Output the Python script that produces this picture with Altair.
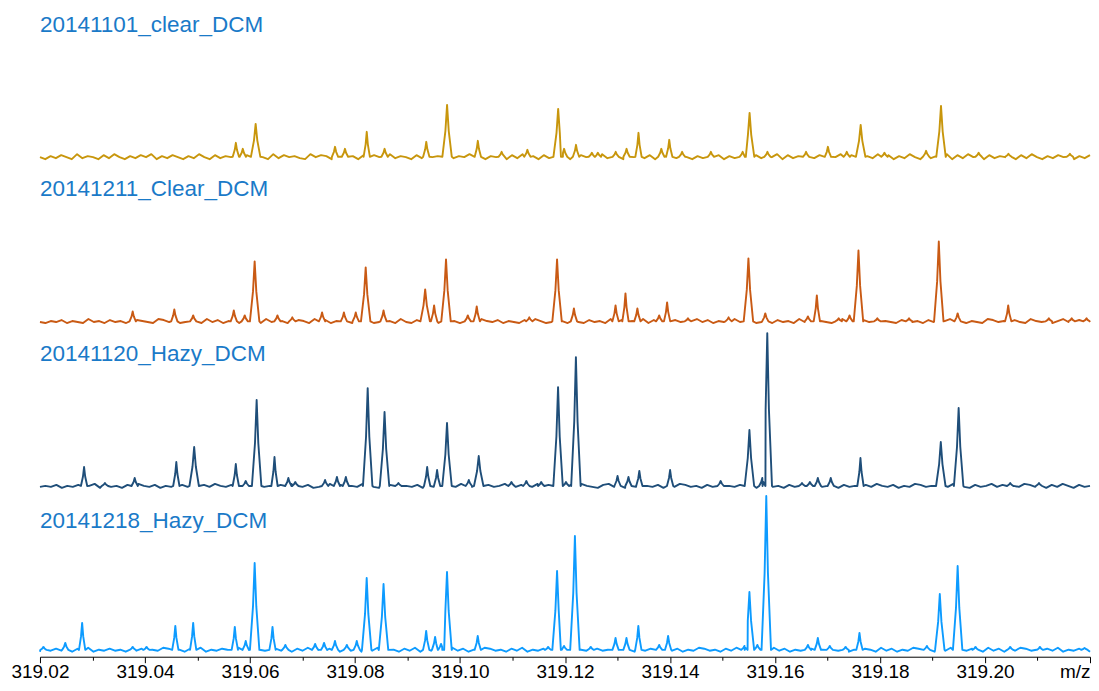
import altair as alt
import pandas as pd

# ---------------- data ----------------
names = ["20141101_clear_DCM", "20141211_Clear_DCM", "20141120_Hazy_DCM", "20141218_Hazy_DCM"]
colors = ["#c8960c", "#c95a14", "#1f4e79", "#0d9bff"]

MZ_MIN, MZ_MAX = 319.02, 319.22
tick_values = [319.02, 319.03, 319.04, 319.05, 319.06, 319.07, 319.08, 319.09, 319.10, 319.11,
               319.12, 319.13, 319.14, 319.15, 319.16, 319.17, 319.18, 319.19, 319.20, 319.21, 319.22]

# peak m/z and peak heights (relative intensity units)
gold_mz = [319.05731, 319.05863, 319.06108, 319.07620, 319.07809, 319.08224, 319.08564, 319.09358,
           319.09754, 319.10340, 319.10793, 319.11284, 319.11870, 319.11983, 319.12210, 319.12512,
           319.12626, 319.12966, 319.13173, 319.13400, 319.13835, 319.13986, 319.14231, 319.14779,
           319.15384, 319.15516, 319.15856, 319.16592, 319.17008, 319.17367, 319.17632, 319.18085,
           319.18878, 319.19162, 319.19879, 319.20446, 319.21617]
gold_h = [14, 8, 33, 10, 8, 25, 8, 15,
          52, 16, 5, 7, 48, 8, 12, 4,
          4, 5, 8, 24, 8, 17, 5, 5,
          5, 44, 5, 5, 10, 5, 32, 4,
          6, 51, 4, 3, 3]

orange_mz = [319.03766, 319.04559, 319.04918, 319.05692, 319.05900, 319.06089, 319.06523, 319.06806,
             319.07373, 319.07789, 319.08015, 319.08204, 319.08544, 319.09337, 319.09507, 319.09734,
             319.10149, 319.10319, 319.11320, 319.11849, 319.12170, 319.12963, 319.13152, 319.13379,
             319.13794, 319.13945, 319.14342, 319.15116, 319.15494, 319.15815, 319.16627, 319.16797,
             319.17213, 319.17420, 319.17590, 319.17949, 319.18553, 319.19120, 319.19479, 319.20442,
             319.21216, 319.21651, 319.21934]
orange_h = [10, 12, 6, 11, 6, 60, 6, 4,
            9, 9, 9, 54, 11, 32, 16, 62,
            6, 15, 4, 62, 13, 16, 28, 13,
            6, 19, 3, 4, 63, 8, 5, 26,
            3, 6, 71, 3, 3, 80, 8, 16,
            3, 3, 3]

navy_mz = [319.02840, 319.03237, 319.03804, 319.04597, 319.04937, 319.05730, 319.05919, 319.06127,
           319.06467, 319.06731, 319.06863, 319.07430, 319.07656, 319.07826, 319.08242, 319.08563,
           319.08827, 319.09375, 319.09564, 319.09753, 319.10168, 319.10357, 319.10980, 319.11264,
           319.11547, 319.11868, 319.12019, 319.12208, 319.13001, 319.13209, 319.13416, 319.14002,
           319.14965, 319.15513, 319.15758, 319.15853, 319.16514, 319.16665, 319.16816, 319.17062,
           319.17628, 319.19158, 319.19498, 319.20480, 319.21028]
navy_h = [19, 3, 8, 24, 39, 22, 5, 86,
          29, 8, 4, 6, 9, 9, 98, 74,
          3, 19, 16, 63, 6, 30, 4, 5,
          4, 99, 4, 129, 10, 9, 15, 16,
          5, 56, 8, 153, 3, 4, 8, 8,
          28, 44, 78, 3, 3]

blue_mz = [319.02066, 319.02482, 319.02803, 319.03766, 319.04030, 319.04578, 319.04918, 319.05711,
           319.05919, 319.06089, 319.06429, 319.06674, 319.07241, 319.07411, 319.07619, 319.07845,
           319.08034, 319.08223, 319.08544, 319.09356, 319.09526, 319.09639, 319.09753, 319.10338,
           319.11679, 319.11849, 319.11981, 319.12189, 319.12491, 319.12963, 319.13171, 319.13397,
           319.13794, 319.13964, 319.15418, 319.15513, 319.15664, 319.15834, 319.16627, 319.16816,
           319.17043, 319.17345, 319.17609, 319.18893, 319.19139, 319.19479, 319.19819, 319.20480,
           319.21046, 319.21896]
blue_h = [3, 7, 27, 3, 3, 24, 27, 23,
          9, 87, 23, 5, 6, 7, 9, 5,
          9, 72, 66, 19, 13, 6, 78, 14,
          3, 79, 4, 114, 3, 12, 12, 24,
          5, 14, 4, 58, 5, 154, 5, 12,
          4, 3, 17, 4, 56, 84, 3, 3,
          3, 2]

# baseline noise samples across the m/z window (one digit per sample)
gold_noise = ("3142531624315263142536142531426315243615243162534216354126341525316243152634"
              "1524362514361526341524361253416253143625134625314263514263152436152436251436"
              "25314263514263152436152634152436152631425361425")
orange_noise = ("2132413215231423124321542312431524132142315243124315241325142312431521432514"
                "2314215324132142531243152142315241325142314213524132152431251423152413214523"
                "14251321452314213524132154231421532413521432")
navy_noise = ("1213021312403120314213021431203142130214312031421301241302143102314213041230"
              "1421303124013214031203142103412031421302143120314021312043120314203124031203"
              "14213021431203142103124130214312031420312")
blue_noise = ("0213120314021312041302143120314021320413021431203140213204130214312031402132"
              "0413021431203140213204130214312031402132041302143120314021320413021431203140"
              "213204130214312031402132041302143120314021320")

spectra = [(gold_mz, gold_h, gold_noise), (orange_mz, orange_h, orange_noise),
           (navy_mz, navy_h, navy_noise), (blue_mz, blue_h, blue_noise)]

# vertical placement of each panel label inside its panel
title_offsets = [-39, -39, -44, -48]


def profile(mz, h, noise_digits):
    """Turn a peak list plus baseline samples into a line table."""
    noise = [int(c) for c in noise_digits]
    base = sum(noise) / len(noise)
    pts, spans = [], []
    for m, v in zip(mz, h):
        w = 0.0009 if v >= 30 else 0.0006
        spans.append((m - w, m + w))
        pts += [(m - w, base), (m - 0.35 * w, base + 0.5 * v), (m, base + v),
                (m + 0.35 * w, base + 0.5 * v), (m + w, base)]
    n = len(noise)
    for i, v in enumerate(noise):
        x = MZ_MIN + (MZ_MAX - MZ_MIN) * i / (n - 1)
        if any(a <= x <= b for a, b in spans):
            continue
        pts.append((x, float(v)))
    pts.sort()
    return pd.DataFrame(pts, columns=["mz", "y"])


FONT = "Liberation Sans"
W, H = 1051, 157
xscale = alt.Scale(domain=[MZ_MIN, MZ_MAX], nice=False, zero=False)
yscale = alt.Scale(domain=[-5, 152], nice=False, zero=False)

major = "round(datum.value * 100) % 2 == 0"
bottom_axis = alt.Axis(
    values=tick_values,
    labelExpr="datum.value > 319.215 ? 'm/z' : (" + major + " ? format(datum.value, '.2f') : '')",
    labelAlign={"condition": {"test": "datum.value > 319.215", "value": "right"}, "value": "center"},
    tickSize={"condition": {"test": major, "value": 6}, "value": 3.5},
    labelFlush=False,
    labelOverlap=False,
    labelFont=FONT,
    labelFontSize=19,
    labelColor="#000000",
    labelPadding=0,
    domainColor="#000000",
    tickColor="#000000",
    domainWidth=1,
    tickWidth=1,
    grid=False,
    title=None,
)

panels = []
for idx, (name, color, (mz, h, noise)) in enumerate(zip(names, colors, spectra)):
    df = profile(mz, h, noise)
    last = idx == len(names) - 1
    ch = alt.Chart(df).mark_line(color=color, strokeWidth=1.9, strokeJoin="round").encode(
        x=alt.X("mz:Q", scale=xscale, axis=bottom_axis if last else None),
        y=alt.Y("y:Q", scale=yscale, axis=None),
        order="mz:Q",
    ).properties(
        width=W, height=H,
        title=alt.TitleParams(text=name, anchor="start", frame="group", font=FONT, fontSize=22.5,
                              fontWeight="normal", color="#1a7ac8", offset=title_offsets[idx],
                              baseline="middle"),
    )
    panels.append(ch)

chart = alt.vconcat(*panels, spacing=7, bounds="flush").properties(
    padding={"left": 2, "top": 0, "right": 0, "bottom": 0},
    background="white",
).configure_view(strokeWidth=0)

chart.save("out.html", embed_options={"renderer": "svg", "actions": False})
